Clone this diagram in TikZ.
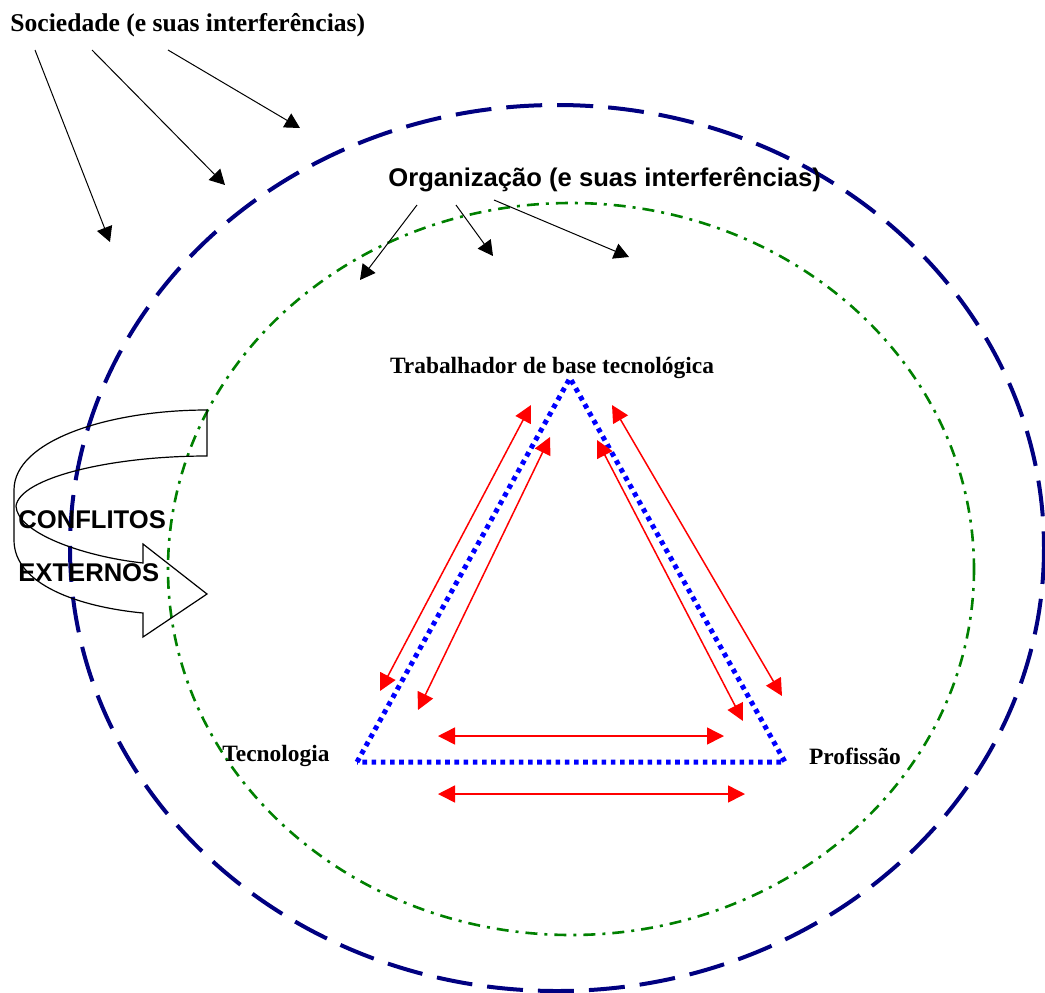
\documentclass[tikz,border=0pt]{standalone}
\usepackage{fontspec}
\setmainfont{Liberation Serif}
\setsansfont{Liberation Sans}
\usepackage{xcolor}
\usetikzlibrary{arrows.meta,positioning}
\definecolor{outernavy}{RGB}{0,0,128}
\definecolor{innergreen}{RGB}{0,128,0}

\begin{document}
\begin{tikzpicture}[x=0.5pt, y=-0.5pt]
    \tikzstyle{biglabel} = [font=\bfseries\fontsize{12.8}{14}\selectfont, inner sep=0pt]
    \tikzstyle{sanslabel} = [font=\sffamily\bfseries\fontsize{12.8}{14}\selectfont, inner sep=0pt]
    \tikzstyle{vertex} = [font=\bfseries\fontsize{11.7}{13}\selectfont, inner sep=0pt]
    \tikzstyle{influence} = [line width=0.5pt, -{Triangle[length=7.5pt, width=8pt]}]
    \tikzstyle{relation} = [red, line width=0.75pt, {Triangle[length=8.5pt, width=8.5pt]}-{Triangle[length=8.5pt, width=8.5pt]}]
    \tikzstyle{society} = [outernavy, line width=2pt, dash pattern=on 18pt off 7.5pt]
    \tikzstyle{organisation} = [innergreen, line width=1.3pt, dash pattern=on 6pt off 3.5pt on 1.5pt off 3.5pt]
    \tikzstyle{triangle} = [blue, line width=2.5pt, dash pattern=on 2.3pt off 2.3pt]

    \useasboundingbox (0,0) rectangle (1045,992);

    % Circles of interference
    \draw [society] (557,548) ellipse [x radius=487, y radius=443];
    \draw [organisation] (571,569) ellipse [x radius=403, y radius=366];

    % Labels
    \node [biglabel, anchor=west] (sociedade) at (10,25) {Sociedade (e suas interferências)};
    \node [sanslabel, anchor=west] (organizacao) at (388,180) {Organização (e suas interferências)};
    \node [vertex] (trabalhador) at (552,368) {Trabalhador de base tecnológica};
    \node [vertex] (tecnologia) at (276,756) {Tecnologia};
    \node [vertex] (profissao) at (855,756) {Profissão};

    % Triangle
    \coordinate (apex) at (570,378);
    \coordinate (tleft) at (357,762);
    \coordinate (tright) at (785,762);
    \draw [triangle] (tleft) -- (apex) -- (tright) -- cycle;

    % Arrows from society
    \coordinate (s1) at (35,50);
    \coordinate (s2) at (92,50);
    \coordinate (s3) at (168,50);
    \coordinate (e1) at (110,242);
    \coordinate (e2) at (225,185);
    \coordinate (e3) at (300,128);
    \draw [influence] (s1) -- (e1);
    \draw [influence] (s2) -- (e2);
    \draw [influence] (s3) -- (e3);

    % Arrows from organisation
    \coordinate (o1) at (417,205);
    \coordinate (o2) at (456,205);
    \coordinate (o3) at (494,200);
    \coordinate (f1) at (360,280);
    \coordinate (f2) at (493,256);
    \coordinate (f3) at (629,257);
    \draw [influence] (o1) -- (f1);
    \draw [influence] (o2) -- (f2);
    \draw [influence] (o3) -- (f3);

    % Relations along the triangle
    \coordinate (lo1) at (531,405);  \coordinate (lo2) at (380,691);
    \coordinate (li1) at (550,437);  \coordinate (li2) at (418,710);
    \coordinate (ri1) at (597,440);  \coordinate (ri2) at (743,721);
    \coordinate (ro1) at (612,405);  \coordinate (ro2) at (782,696);
    \coordinate (hu1) at (438,736);  \coordinate (hu2) at (724,736);
    \coordinate (hl1) at (438,794);  \coordinate (hl2) at (745,794);
    \draw [relation] (lo1) -- (lo2);
    \draw [relation] (li1) -- (li2);
    \draw [relation] (ri1) -- (ri2);
    \draw [relation] (ro1) -- (ro2);
    \draw [relation] (hu1) -- (hu2);
    \draw [relation] (hl1) -- (hl2);

    % External conflicts
    \draw [line width=0.6pt] (207,410) .. controls (110,410) and (14,440) .. (14,490)
        -- (14,540) .. controls (14,585) and (80,607) .. (143,613)
        -- (143,637) -- (207,594) -- (143,544) -- (143,563)
        .. controls (80,556) and (17,532) .. (16,506)
        .. controls (20,478) and (110,456) .. (207,456) -- cycle;
    \node [sanslabel, anchor=west] (conflitos) at (18,520) {CONFLITOS};
    \node [sanslabel, below=17pt of conflitos.south west, anchor=north west] (externos) {EXTERNOS};
\end{tikzpicture}
\end{document}
